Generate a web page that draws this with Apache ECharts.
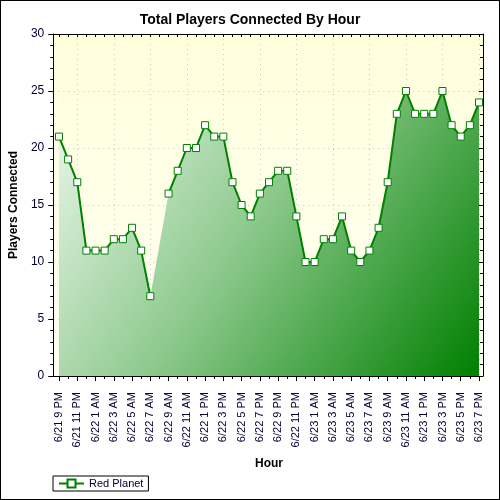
<!DOCTYPE html>
<html>
<head>
<meta charset="utf-8">
<script src="https://cdn.jsdelivr.net/npm/echarts@6/dist/echarts.min.js"></script>
<style>
html,body{margin:0;padding:0;background:#fff;}
#wrap{position:relative;width:500px;height:500px;}
#chart{width:500px;height:500px;}
#frame{position:absolute;left:0;top:0;width:500px;height:500px;box-sizing:border-box;border:1px solid #000;pointer-events:none;}
</style>
</head>
<body>
<div id="wrap"><div id="chart"></div><div id="frame"></div></div>
<script>
const hours = [
  '6/21 9 PM','6/21 10 PM','6/21 11 PM',
  '6/22 12 AM','6/22 1 AM','6/22 2 AM','6/22 3 AM','6/22 4 AM','6/22 5 AM','6/22 6 AM','6/22 7 AM','6/22 8 AM','6/22 9 AM','6/22 10 AM','6/22 11 AM',
  '6/22 12 PM','6/22 1 PM','6/22 2 PM','6/22 3 PM','6/22 4 PM','6/22 5 PM','6/22 6 PM','6/22 7 PM','6/22 8 PM','6/22 9 PM','6/22 10 PM','6/22 11 PM',
  '6/23 12 AM','6/23 1 AM','6/23 2 AM','6/23 3 AM','6/23 4 AM','6/23 5 AM','6/23 6 AM','6/23 7 AM','6/23 8 AM','6/23 9 AM','6/23 10 AM','6/23 11 AM',
  '6/23 12 PM','6/23 1 PM','6/23 2 PM','6/23 3 PM','6/23 4 PM','6/23 5 PM','6/23 6 PM','6/23 7 PM'
];
const redPlanet = [
  21,19,17,
  11,11,11,12,12,13,11,7,null,16,18,20,
  20,22,21,21,17,15,14,16,17,18,18,14,
  10,10,12,12,14,11,10,11,13,17,23,25,
  23,23,23,25,22,21,22,24
];
const yTicks = {min:0, max:30, interval:5};

const FONT = "'Liberation Sans', Arial, sans-serif";
const TXT = '#000033';
const chart = echarts.init(document.getElementById('chart'), null, {renderer:'canvas'});
const frameGrid = {left:53, right:17, top:34, bottom:124};
const dataGrid = {left:59, right:21, top:34, bottom:124};

chart.setOption({
  animation:false,
  backgroundColor:'#ffffff',
  textStyle:{fontFamily:FONT},
  title:{
    text:'Total Players Connected By Hour',
    left:'center', top:8,
    textStyle:{fontFamily:FONT, fontSize:14, fontWeight:'bold', color:'#000'}
  },
  legend:{
    data:['Red Planet'],
    left:53, top:476,
    orient:'horizontal',
    borderColor:'#000', borderWidth:1, backgroundColor:'#fff',
    padding:[2,5,2,5],
    itemWidth:25, itemHeight:10,
    textStyle:{fontFamily:FONT, fontSize:11, color:TXT}
  },
  grid:[
    Object.assign({show:true, borderWidth:0,
      backgroundColor:new echarts.graphic.LinearGradient(0,0,0,1,[
        {offset:0,color:'#ffffdc'},{offset:1,color:'#fffff4'}])}, frameGrid),
    Object.assign({show:false}, dataGrid)
  ],
  xAxis:[
    {gridIndex:0, type:'value', min:0, max:1, position:'bottom',
      axisLine:{show:true, onZero:false, lineStyle:{color:'#000', width:1}},
      axisTick:{show:false}, axisLabel:{show:false}, splitLine:{show:false}},
    {gridIndex:0, type:'value', min:0, max:1, position:'top',
      axisLine:{show:true, onZero:false, lineStyle:{color:'#000', width:1}},
      axisTick:{show:false}, axisLabel:{show:false}, splitLine:{show:false}},
    {gridIndex:1, type:'category', data:hours, boundaryGap:false, position:'bottom',
      name:'Hour', nameLocation:'middle', nameGap:82,
      nameTextStyle:{fontFamily:FONT, fontSize:12, fontWeight:'bold', color:'#000'},
      axisLine:{show:false, onZero:false},
      axisTick:{show:true, interval:1, length:5, inside:false, lineStyle:{color:'#000'}},
      axisLabel:{show:true, interval:1, rotate:90, margin:16, fontFamily:FONT, fontSize:11, color:TXT},
      splitLine:{show:true, interval:function(i){return (i-2)%4===0;},
        lineStyle:{color:'#c8c8c8', type:[1,4], width:1}}},
    {gridIndex:1, type:'category', data:hours, boundaryGap:false, position:'bottom',
      axisLine:{show:false, onZero:false},
      axisTick:{show:true, interval:0, length:3, inside:false, lineStyle:{color:'#000'}},
      axisLabel:{show:false}, splitLine:{show:false}},
    {gridIndex:1, type:'category', data:hours, boundaryGap:false, position:'top',
      axisLine:{show:false, onZero:false},
      axisTick:{show:true, interval:0, length:3, inside:true, lineStyle:{color:'#000'}},
      axisLabel:{show:false}, splitLine:{show:false}}
  ],
  yAxis:[
    {gridIndex:0, type:'value', min:yTicks.min, max:yTicks.max, interval:yTicks.interval, position:'left',
      name:'Players Connected', nameLocation:'middle', nameGap:32,
      nameTextStyle:{fontFamily:FONT, fontSize:12, fontWeight:'bold', color:'#000'},
      axisLine:{show:true, onZero:false, lineStyle:{color:'#000', width:1}},
      axisTick:{show:true, length:5, inside:false, lineStyle:{color:'#000'}},
      minorTick:{show:true, splitNumber:5, length:3, lineStyle:{color:'#000'}},
      axisLabel:{show:true, margin:9, fontFamily:FONT, fontSize:12, color:TXT},
      splitLine:{show:true, lineStyle:{color:'#c8c8c8', type:[1,4], width:1}}},
    {gridIndex:0, type:'value', min:yTicks.min, max:yTicks.max, interval:yTicks.interval, position:'right',
      axisLine:{show:true, onZero:false, lineStyle:{color:'#000', width:1}},
      axisTick:{show:true, length:4, inside:true, lineStyle:{color:'#000'}},
      minorTick:{show:true, splitNumber:5, length:3, lineStyle:{color:'#000'}},
      axisLabel:{show:false}, splitLine:{show:false}},
    {gridIndex:1, type:'value', min:yTicks.min, max:yTicks.max, interval:yTicks.interval, show:false}
  ],
  series:[
    {type:'line', xAxisIndex:2, yAxisIndex:2, data:redPlanet, connectNulls:true,
      showSymbol:false, symbol:'none', silent:true,
      lineStyle:{width:0, opacity:0},
      areaStyle:{opacity:1, color:new echarts.graphic.LinearGradient(0,0,1,1,[
        {offset:0,color:'#eef8ee'},{offset:0.45,color:'#8fca8f'},{offset:1,color:'#008000'}])},
      z:2},
    {name:'Red Planet', type:'line', xAxisIndex:2, yAxisIndex:2, data:redPlanet, connectNulls:false,
      symbol:'rect', symbolSize:7, showSymbol:true, showAllSymbol:true,
      lineStyle:{color:'#008000', width:2},
      itemStyle:{color:'#ffffff', borderColor:'#008000', borderWidth:1},
      z:3}
  ]
});
</script>
</body>
</html>
